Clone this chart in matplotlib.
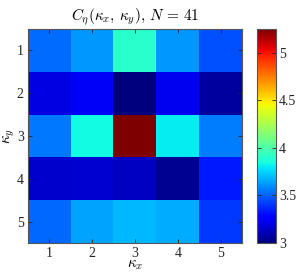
import matplotlib
matplotlib.use("Agg")
import matplotlib.pyplot as plt
import numpy as np

plt.rcParams['font.family'] = ['Liberation Serif', 'DejaVu Serif']
plt.rcParams['mathtext.fontset'] = 'cm'

kx = [1, 2, 3, 4, 5]
ky = [1, 2, 3, 4, 5]
row1 = [3.52, 3.62, 3.90, 3.62, 3.46]
row2 = [3.20, 3.24, 3.00, 3.22, 3.07]
row3 = [3.55, 3.84, 5.25, 3.80, 3.56]
row4 = [3.15, 3.16, 3.14, 3.04, 3.34]
row5 = [3.51, 3.65, 3.69, 3.66, 3.41]
C = np.array([row1, row2, row3, row4, row5])
cbar_ticks = [3, 3.5, 4, 4.5, 5]
cbar_labels = ['3', '3.5', '4', '4.5', '5']

fig = plt.figure(figsize=(3.01, 2.76), dpi=100)
ax = fig.add_axes([28/301, 33/276, 214/301, 214/276])
cax = fig.add_axes([257/301, 33/276, 19/301, 214/276])

im = ax.imshow(C, cmap='jet', aspect='auto', interpolation='nearest',
               extent=(0.5, 5.5, 5.5, 0.5), vmin=C.min(), vmax=C.max())
ax.set_xticks(kx)
ax.set_yticks(ky)
ax.set_xticklabels([str(v) for v in kx])
ax.set_yticklabels([str(v) for v in ky])
ax.tick_params(direction='in', length=3, width=0.6, labelsize=10, top=True, right=True, pad=3, colors='#262626')
for s in ax.spines.values():
    s.set_color('#555555'); s.set_linewidth(0.8)
ax.set_title(r'$C_\eta(\kappa_x,\,\kappa_y),\,N\,=\,41$', fontsize=11, pad=6)
ax.set_xlabel(r'$\kappa_x$', fontsize=11, labelpad=-1)
ax.set_ylabel(r'$\kappa_y$', fontsize=11, labelpad=0)

cb = fig.colorbar(im, cax=cax)
cb.set_ticks(cbar_ticks)
cb.set_ticklabels(cbar_labels)
cax.tick_params(direction='in', length=3, width=0.6, labelsize=10, left=True, right=True, pad=2, colors='#262626')
cb.outline.set_edgecolor('#555555'); cb.outline.set_linewidth(0.8)

fig.savefig('out.png', dpi=100)
